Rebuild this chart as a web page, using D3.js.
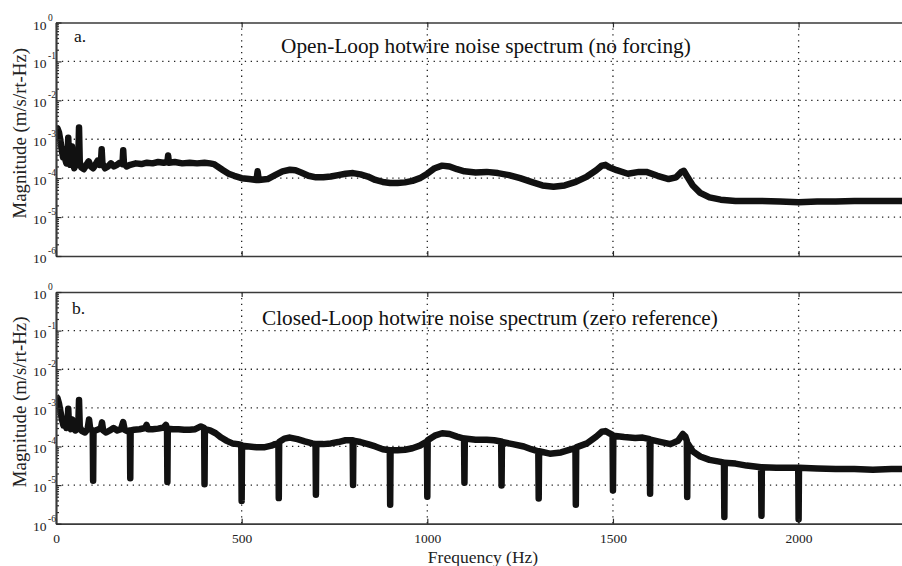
<!DOCTYPE html>
<html>
<head>
<meta charset="utf-8">
<script src="https://cdn.jsdelivr.net/npm/d3@7"></script>
<style>
  body { margin: 0; background: #fff; }
  svg text { font-family: "Liberation Serif", "Times New Roman", Tinos, "Nimbus Roman", "DejaVu Serif", serif; }
</style>
</head>
<body>
<svg id="chart" width="902" height="566"></svg>
<script>
// Hotwire noise spectra: [frequency (Hz), magnitude (m/s/rt-Hz)]
const openLoop = [
  [0,2.0e-3],[4,1.9e-3],[8,1.5e-3],[12,9e-4],[16,5e-4],[19,3.4e-4],[22,5.5e-4],[25,3e-4],
  [28,2.4e-4],[31,3.5e-4],[33,1.1e-3],[35,3.5e-4],[38,2.2e-4],[41,3.5e-4],[43,6.5e-4],[45,3e-4],
  [49,1.8e-4],[53,2.2e-4],[57,2.5e-4],[60,3e-4],[62,2.0e-3],[64,2.6e-4],[68,1.9e-4],[75,1.7e-4],
  [82,2.2e-4],[88,2.7e-4],[94,2.0e-4],[100,1.8e-4],[106,2.2e-4],[112,2.8e-4],[118,2.2e-4],
  [121,2.5e-4],[123,5.5e-4],[125,2.4e-4],[132,1.8e-4],[140,2.0e-4],[148,2.4e-4],[156,2.0e-4],
  [164,2.2e-4],[172,2.5e-4],[179,2.3e-4],[181,5.2e-4],[183,2.4e-4],[190,2.0e-4],[200,2.2e-4],
  [215,2.4e-4],[230,2.3e-4],[245,2.5e-4],[260,2.4e-4],[275,2.6e-4],[290,2.5e-4],[300,2.6e-4],
  [302,3.8e-4],[304,2.5e-4],[320,2.6e-4],[340,2.4e-4],[360,2.5e-4],[380,2.4e-4],[400,2.5e-4],
  [415,2.4e-4],[425,2.3e-4],[435,2.0e-4],[450,1.6e-4],[465,1.3e-4],[480,1.15e-4],[500,1.0e-4],
  [520,9.5e-5],[540,9e-5],[543,1.5e-4],[546,9e-5],[570,9.5e-5],[590,1.2e-4],[610,1.5e-4],
  [630,1.65e-4],[645,1.6e-4],[660,1.4e-4],[680,1.15e-4],[700,1.05e-4],[720,1.05e-4],[740,1.1e-4],
  [760,1.2e-4],[780,1.3e-4],[800,1.35e-4],[820,1.25e-4],[840,1.1e-4],[860,9e-5],[880,8e-5],
  [900,7.5e-5],[920,7.5e-5],[940,7.8e-5],[960,8.5e-5],[980,1.0e-4],[1000,1.3e-4],[1020,1.8e-4],
  [1040,2.1e-4],[1060,2.0e-4],[1080,1.7e-4],[1100,1.5e-4],[1130,1.4e-4],[1160,1.45e-4],
  [1190,1.35e-4],[1220,1.2e-4],[1250,1.0e-4],[1280,8e-5],[1310,6.5e-5],[1340,6e-5],[1370,6.5e-5],
  [1400,8e-5],[1430,1.1e-4],[1455,1.6e-4],[1470,2.1e-4],[1480,2.2e-4],[1490,1.9e-4],[1510,1.6e-4],
  [1540,1.3e-4],[1570,1.45e-4],[1590,1.45e-4],[1620,1.15e-4],[1650,9.5e-5],[1670,1.05e-4],
  [1684,1.45e-4],[1691,1.55e-4],[1700,1.1e-4],[1715,6.5e-5],[1735,4.2e-5],[1760,3.2e-5],
  [1790,2.8e-5],[1830,2.6e-5],[1900,2.6e-5],[1950,2.5e-5],[2000,2.4e-5],[2050,2.5e-5],
  [2100,2.5e-5],[2150,2.6e-5],[2200,2.6e-5],[2250,2.6e-5],[2300,2.6e-5]
];

const closedLoop = [
  [0,2.0e-3],[4,1.8e-3],[8,1.3e-3],[12,8e-4],[16,5e-4],[20,3.5e-4],[24,4.5e-4],[28,3e-4],
  [31,4e-4],[33,9.5e-4],[35,3.5e-4],[40,2.8e-4],[44,5e-4],[47,3e-4],[52,2.6e-4],[57,2.8e-4],
  [60,3.2e-4],[62,1.6e-3],[64,3.2e-4],[70,2.5e-4],[78,2.3e-4],[85,2.8e-4],[89,5e-4],[92,2.9e-4],
  [96,2.7e-4],[99,2.4e-4],[100,1.3e-5],[101,2.4e-4],[106,2.6e-4],[115,2.8e-4],[121,3.0e-4],
  [124,4.2e-4],[127,2.6e-4],[135,2.3e-4],[145,2.6e-4],[155,3.0e-4],[165,2.6e-4],[175,2.8e-4],
  [181,4.3e-4],[185,2.7e-4],[192,2.5e-4],[199,2.6e-4],[200,1.5e-5],[201,2.6e-4],[210,2.7e-4],
  [225,2.8e-4],[240,3.0e-4],[244,3.6e-4],[248,2.8e-4],[260,2.8e-4],[275,2.9e-4],[290,3.1e-4],
  [296,3.6e-4],[299,3.0e-4],[300,1.2e-5],[301,2.9e-4],[315,2.8e-4],[330,2.8e-4],[345,2.7e-4],
  [360,2.7e-4],[375,2.8e-4],[390,3.3e-4],[399,3.0e-4],[400,1.05e-5],[401,2.8e-4],[415,2.6e-4],
  [430,2.2e-4],[445,1.7e-4],[460,1.4e-4],[475,1.2e-4],[490,1.15e-4],[499,1.1e-4],[500,3.9e-6],
  [501,1.05e-4],[520,1.0e-4],[540,9.5e-5],[560,9.5e-5],[580,1.05e-4],[590,1.15e-4],[599,1.2e-4],
  [600,4.6e-6],[601,1.3e-4],[615,1.6e-4],[630,1.7e-4],[650,1.55e-4],[670,1.35e-4],[690,1.2e-4],
  [699,1.15e-4],[700,5.6e-6],[701,1.15e-4],[720,1.15e-4],[740,1.2e-4],[760,1.3e-4],[780,1.45e-4],
  [799,1.45e-4],[800,1.0e-5],[801,1.4e-4],[820,1.3e-4],[840,1.15e-4],[860,1.0e-4],[880,8.5e-5],
  [899,8e-5],[900,3.1e-6],[901,8e-5],[920,8e-5],[940,8.2e-5],[960,9e-5],[980,1.05e-4],
  [999,1.35e-4],[1000,5e-6],[1001,1.45e-4],[1020,1.9e-4],[1040,2.2e-4],[1060,2.1e-4],
  [1080,1.8e-4],[1099,1.6e-4],[1100,1.15e-5],[1101,1.6e-4],[1130,1.5e-4],[1160,1.5e-4],
  [1180,1.45e-4],[1199,1.35e-4],[1200,9.8e-6],[1201,1.3e-4],[1230,1.15e-4],[1260,1.0e-4],
  [1280,8.5e-5],[1299,7.5e-5],[1300,4.5e-6],[1301,7.5e-5],[1330,6.5e-5],[1360,7e-5],[1380,8e-5],
  [1399,9e-5],[1400,3.1e-6],[1401,9.5e-5],[1430,1.2e-4],[1455,1.8e-4],[1470,2.4e-4],[1480,2.5e-4],
  [1490,2.2e-4],[1499,2.0e-4],[1500,7.3e-6],[1501,1.9e-4],[1530,1.75e-4],[1560,1.65e-4],
  [1580,1.7e-4],[1599,1.55e-4],[1600,6e-6],[1601,1.5e-4],[1630,1.3e-4],[1655,1.15e-4],
  [1675,1.4e-4],[1688,2.1e-4],[1695,1.8e-4],[1699,1.4e-4],[1700,4.9e-6],[1701,1.2e-4],
  [1715,7.5e-5],[1735,5.5e-5],[1760,4.5e-5],[1790,4e-5],[1799,3.8e-5],[1800,1.5e-6],[1801,3.8e-5],
  [1830,3.6e-5],[1860,3.2e-5],[1899,2.9e-5],[1900,1.6e-6],[1901,2.9e-5],[1940,2.8e-5],
  [1980,2.8e-5],[1999,2.8e-5],[2000,1.3e-6],[2001,2.8e-5],[2050,2.7e-5],[2100,2.6e-5],
  [2150,2.6e-5],[2200,2.5e-5],[2250,2.6e-5],[2300,2.6e-5]
];

const xTickValues = [0, 500, 1000, 1500, 2000];
const yExponents = [-6, -5, -4, -3, -2, -1, 0];
const panelTags = ["a.", "b."];
const panelTitles = [
  "Open-Loop hotwire noise spectrum (no forcing)",
  "Closed-Loop hotwire noise spectrum (zero reference)"
];
const yAxisTitle = "Magnitude (m/s/rt-Hz)";
const xAxisTitle = "Frequency (Hz)";

const SERIF = "'Liberation Serif', 'Times New Roman', Tinos, 'Nimbus Roman', 'DejaVu Serif', serif";

// Layout
const xLeft = 56, xRight = 910;
const panels = [
  { top: 22.5, bottom: 256, data: openLoop, tag: panelTags[0], title: panelTitles[0],
    tagPos: [74, 41.5], titlePos: [281, 52.5], labels: false },
  { top: 292, bottom: 523.7, data: closedLoop, tag: panelTags[1], title: panelTitles[1],
    tagPos: [72, 314], titlePos: [262, 324.5], labels: true }
];

const svg = d3.select("#chart");
const x = d3.scaleLinear().domain([0, 2300]).range([xLeft, xRight]);

panels.forEach((p, i) => {
  const y = d3.scaleLog().domain([1e-6, 1]).range([p.bottom, p.top]);
  const g = svg.append("g");

  const clipId = "clip" + i;
  g.append("clipPath").attr("id", clipId)
    .append("rect").attr("x", xLeft).attr("y", p.top).attr("width", xRight - xLeft).attr("height", p.bottom - p.top);

  // dotted grid
  const grid = g.append("g").attr("stroke", "#222").attr("stroke-width", 1.3)
    .attr("stroke-dasharray", "1.3,4.6").attr("fill", "none");
  yExponents.filter(e => e > -6 && e < 0).forEach(e => {
    grid.append("line").attr("x1", xLeft).attr("x2", xRight)
      .attr("y1", y(Math.pow(10, e))).attr("y2", y(Math.pow(10, e)));
  });
  xTickValues.filter(v => v > 0).forEach(v => {
    grid.append("line").attr("x1", x(v)).attr("x2", x(v))
      .attr("y1", p.top).attr("y2", p.bottom);
  });

  // spectrum trace
  const line = d3.line().x(d => x(d[0])).y(d => y(d[1]));
  g.append("path").datum(p.data)
    .attr("clip-path", `url(#${clipId})`)
    .attr("d", line)
    .attr("fill", "none").attr("stroke", "#111").attr("stroke-width", 6.5)
    .attr("stroke-linejoin", "round").attr("stroke-linecap", "butt");

  // x axes (ticks pointing inward) on bottom and top
  const xb = d3.axisBottom(x).tickValues(xTickValues).tickSizeInner(-5).tickSizeOuter(0)
    .tickPadding(10).tickFormat(p.labels ? d3.format("d") : () => "");
  const xAxisG = g.append("g").attr("transform", `translate(0,${p.bottom})`).call(xb);
  const xt = d3.axisTop(x).tickValues(xTickValues).tickSizeInner(-5).tickSizeOuter(0).tickFormat(() => "");
  const xTopG = g.append("g").attr("transform", `translate(0,${p.top})`).call(xt);

  // y axis: major decades and minor log ticks, inward
  const minor = [];
  for (let e = -6; e < 0; e++) for (let k = 2; k <= 9; k++) minor.push(k * Math.pow(10, e));
  const yMinorG = g.append("g").attr("transform", `translate(${xLeft},0)`)
    .call(d3.axisLeft(y).tickValues(minor).tickSizeInner(-3).tickSizeOuter(0).tickFormat(() => ""));
  const yMajorG = g.append("g").attr("transform", `translate(${xLeft},0)`)
    .call(d3.axisLeft(y).tickValues(yExponents.map(e => Math.pow(10, e))).tickSizeInner(-5.5)
      .tickSizeOuter(0).tickFormat(() => ""));

  [xAxisG, xTopG, yMinorG, yMajorG].forEach(a => {
    a.attr("font-family", SERIF);
    a.selectAll("path.domain").attr("stroke", "#3a3a3a").attr("stroke-width", 1.7);
    a.selectAll(".tick line").attr("stroke", "#2a2a2a").attr("stroke-width", 1.2);
  });
  xAxisG.selectAll(".tick text").style("font-family", SERIF)
    .attr("font-size", 13.5).attr("fill", "#222");

  // y tick labels 10^n
  yExponents.forEach(e => {
    const t = g.append("text").attr("x", 33).attr("y", y(Math.pow(10, e)) + 7)
      .style("font-family", SERIF).attr("font-size", 13.5).attr("fill", "#222");
    t.append("tspan").text("10");
    t.append("tspan").attr("dy", -9).attr("dx", 1.5).attr("font-size", 9.5).text(String(e));
  });

  // y-axis title
  g.append("text")
    .attr("transform", `translate(26,${(p.top + p.bottom) / 2 - 6}) rotate(-90)`)
    .style("font-family", SERIF)
    .attr("text-anchor", "middle").attr("font-size", 18.8).attr("fill", "#222")
    .text(yAxisTitle);

  // panel tag and title
  g.append("text").attr("x", p.tagPos[0]).attr("y", p.tagPos[1])
    .style("font-family", SERIF).attr("font-size", 17.5).attr("fill", "#111").text(p.tag);
  g.append("text").attr("x", p.titlePos[0]).attr("y", p.titlePos[1])
    .style("font-family", SERIF).attr("font-size", 21.3).attr("fill", "#111").text(p.title);
});

svg.append("text").attr("x", (xLeft + xRight) / 2).attr("y", 563)
  .style("font-family", SERIF)
  .attr("text-anchor", "middle").attr("font-size", 17.5).attr("fill", "#222")
  .text(xAxisTitle);
</script>
</body>
</html>
